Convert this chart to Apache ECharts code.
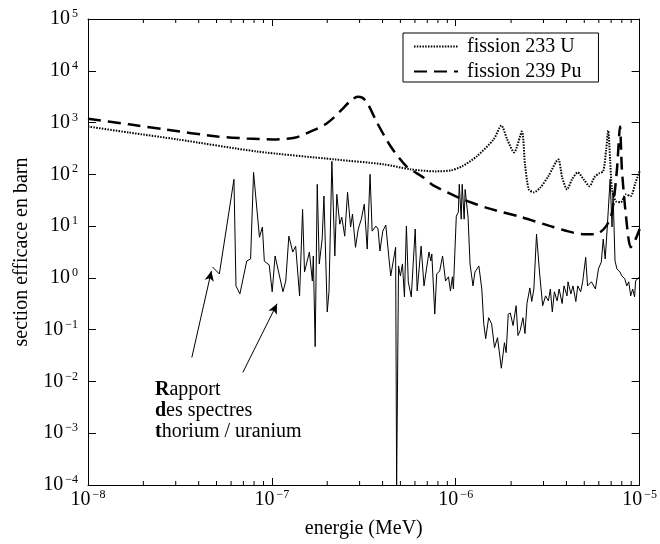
<!DOCTYPE html>
<html>
<head>
<meta charset="utf-8">
<script src="https://cdn.jsdelivr.net/npm/echarts/dist/echarts.min.js"></script>
<style>
  html, body { margin: 0; padding: 0; background: #fff; }
  #chart { width: 660px; height: 544px; }
</style>
</head>
<body>
<div id="chart"></div>
<script>
// energie (MeV) / section efficace (barn)
var u233 = [
  [1e-8, 838], [1.67e-8, 642], [3.09e-8, 471], [8.25e-8, 277], [2.2e-7, 194],
  [4.06e-7, 156], [5.66e-7, 125], [7.78e-7, 114], [9.36e-7, 119], [1.084e-6, 143],
  [1.30e-6, 222], [1.606e-6, 471], [1.77e-6, 875], [1.906e-6, 471], [2.077e-6, 265],
  [2.29e-6, 671], [2.38e-6, 156], [2.497e-6, 51], [2.66e-6, 45], [2.89e-6, 56],
  [3.19e-6, 92], [3.61e-6, 194], [3.79e-6, 88], [4.03e-6, 51], [4.29e-6, 80],
  [4.61e-6, 109], [4.96e-6, 80], [5.34e-6, 59], [5.68e-6, 88], [6.04e-6, 105],
  [6.34e-6, 114], [6.58e-6, 303], [6.75e-6, 700], [6.91e-6, 194], [7.08e-6, 51],
  [7.44e-6, 30], [7.91e-6, 29], [8.41e-6, 41], [8.94e-6, 38], [9.51e-6, 70], [1e-5, 115]
];

var pu239 = [
  [1e-8, 1190], [1.67e-8, 923], [2.64e-8, 733], [5.05e-8, 538], [7.30e-8, 492],
  [1.016e-7, 471], [1.347e-7, 515], [1.62e-7, 671], [1.947e-7, 915], [2.2e-7, 1303],
  [2.40e-7, 1778], [2.65e-7, 2533], [2.92e-7, 3162], [3.10e-7, 3027], [3.30e-7, 2424],
  [3.73e-7, 1000], [4.43e-7, 345], [5.39e-7, 143], [6.64e-7, 88], [7.5e-7, 62],
  [9.95e-7, 38], [1.084e-6, 33], [1.51e-6, 22], [2.26e-6, 15], [3.39e-6, 9.6],
  [4.90e-6, 7.0], [5.82e-6, 7.0], [6.58e-6, 10], [7.08e-6, 18.6], [7.53e-6, 125],
  [7.82e-6, 838], [8.01e-6, 125], [8.41e-6, 17], [8.94e-6, 3.9], [9.51e-6, 5.6], [1e-5, 8.8]
];

// rapport des spectres thorium / uranium
var rapport = [
  [4.75e-8, 1.63], [5.18e-8, 1.19], [6.22e-8, 80], [6.38e-8, 0.70], [6.70e-8, 0.49],
  [7.30e-8, 2.12], [7.66e-8, 2.32], [7.95e-8, 109], [8.56e-8, 6.1], [8.88e-8, 9.6],
  [9.10e-8, 2.1], [9.67e-8, 1.78], [1.004e-7, 0.54], [1.041e-7, 2.65], [1.149e-7, 0.54],
  [1.19e-7, 0.87], [1.237e-7, 6.4], [1.299e-7, 3.16], [1.347e-7, 4.1], [1.415e-7, 0.45],
  [1.469e-7, 21], [1.505e-7, 1.3], [1.54e-7, 1.3], [1.60e-7, 3.16], [1.66e-7, 0.87],
  [1.68e-7, 2.65], [1.72e-7, 0.047], [1.765e-7, 64], [1.81e-7, 1.86], [1.877e-7, 5.6],
  [1.92e-7, 38], [2.0e-7, 0.22], [2.045e-7, 0.54], [2.12e-7, 178], [2.2e-7, 2.65],
  [2.255e-7, 41], [2.34e-7, 10.9], [2.40e-7, 14.9], [2.49e-7, 6.4], [2.58e-7, 45],
  [2.68e-7, 9.6], [2.745e-7, 17], [2.85e-7, 3.9], [2.95e-7, 8.8], [3.065e-7, 13.6],
  [3.18e-7, 26.5], [3.30e-7, 3.6], [3.42e-7, 100], [3.51e-7, 8.0], [3.68e-7, 10],
  [3.78e-7, 8.8], [3.87e-7, 3.3], [4.01e-7, 8.0], [4.165e-7, 10.5], [4.32e-7, 2.65],
  [4.43e-7, 1.09], [4.71e-7, 3.9], [4.77e-7, 1e-4], [4.885e-7, 1.7], [5.0e-7, 1.09],
  [5.13e-7, 1.86], [5.26e-7, 0.43], [5.39e-7, 10], [5.52e-7, 0.84], [5.73e-7, 0.43],
  [6.02e-7, 8.8], [6.17e-7, 0.56], [6.48e-7, 4.1], [6.72e-7, 0.70], [7.15e-7, 3.16],
  [7.32e-7, 2.12], [7.41e-7, 2.9], [7.69e-7, 0.20], [7.88e-7, 1.19], [8.18e-7, 1.36],
  [8.48e-7, 2.65], [8.80e-7, 0.87], [9.13e-7, 1.05], [9.36e-7, 0.56], [9.59e-7, 1.05],
  [9.71e-7, 0.61], [1.007e-6, 15.6], [1.033e-6, 18.6], [1.045e-6, 64], [1.071e-6, 13.6],
  [1.084e-6, 64], [1.111e-6, 13.6], [1.125e-6, 51], [1.167e-6, 14.9], [1.196e-6, 1.86],
  [1.241e-6, 0.70], [1.272e-6, 1.3], [1.336e-6, 1.7], [1.386e-6, 0.61], [1.42e-6, 0.13],
  [1.455e-6, 0.067], [1.51e-6, 0.17], [1.567e-6, 0.13], [1.625e-6, 0.045], [1.687e-6, 0.070],
  [1.77e-6, 0.018], [1.84e-6, 0.056], [1.88e-6, 0.036], [1.93e-6, 0.20], [1.98e-6, 0.21],
  [2.05e-6, 0.12], [2.13e-6, 0.29], [2.18e-6, 0.077], [2.24e-6, 0.096], [2.32e-6, 0.17],
  [2.38e-6, 0.084], [2.44e-6, 0.32], [2.53e-6, 0.64], [2.59e-6, 0.35], [2.66e-6, 0.61],
  [2.75e-6, 7.0], [2.86e-6, 1.19], [2.97e-6, 0.29], [3.08e-6, 0.45], [3.19e-6, 0.36],
  [3.27e-6, 0.61], [3.35e-6, 0.22], [3.44e-6, 0.54], [3.56e-6, 0.36], [3.65e-6, 0.61],
  [3.79e-6, 0.32], [3.88e-6, 0.70], [4.03e-6, 0.45], [4.08e-6, 0.84], [4.23e-6, 0.49],
  [4.34e-6, 0.70], [4.50e-6, 0.35], [4.61e-6, 0.70], [4.78e-6, 0.54], [4.90e-6, 0.84],
  [5.09e-6, 2.5], [5.21e-6, 0.70], [5.47e-6, 0.84], [5.75e-6, 0.61], [5.97e-6, 1.49],
  [6.19e-6, 2.03], [6.34e-6, 5.6], [6.50e-6, 2.32], [6.66e-6, 8.8], [6.91e-6, 80],
  [7.08e-6, 9.6], [7.17e-6, 45], [7.35e-6, 2.12], [7.53e-6, 1.49], [7.82e-6, 1.3],
  [8.01e-6, 1.09], [8.31e-6, 0.96], [8.51e-6, 0.70], [8.73e-6, 0.84], [8.94e-6, 0.45],
  [9.17e-6, 0.61], [9.39e-6, 0.43], [9.51e-6, 0.87], [9.74e-6, 0.96], [1e-5, 1.05]
];

// fleches vers la courbe du rapport
var fleches = [
  [[3.67e-8, 0.029], [4.69e-8, 1.36]],
  [[6.95e-8, 0.0149], [1.067e-7, 0.316]]
];

// petites graduations (2..9) sur l'axe des energies
var minorX = [];
[1e-8, 1e-7, 1e-6].forEach(function (d) {
  for (var m = 2; m <= 9; m++) minorX.push([m * d, 1]);
});

var serif = 'Liberation Serif';

function puissance(v) {
  var e = Math.round(Math.log10(v));
  var s = e < 0 ? '\u2212' + (-e) : '' + e;
  return '{b|10}{s|' + s + '}';
}
var richLabel = {
  b: { fontSize: 20, fontFamily: serif, color: '#000' },
  s: { fontSize: 12, fontFamily: serif, color: '#000', padding: [0, 0, 10, 2] }
};

function axeX(pos, labels) {
  return {
    type: 'log', logBase: 10, position: pos, min: 1e-8, max: 1e-5,
    interval: 1, splitNumber: 3,
    axisLine: { show: true, lineStyle: { color: '#000', width: 1 } },
    axisTick: { show: true, inside: true, length: 7, lineStyle: { color: '#000' } },
    axisLabel: { show: labels, margin: 4, formatter: puissance, rich: richLabel },
    splitLine: { show: false }
  };
}
function axeY(pos, labels) {
  return {
    type: 'log', logBase: 10, position: pos, min: 1e-4, max: 1e5,
    interval: 1, splitNumber: 9,
    axisLine: { show: true, lineStyle: { color: '#000', width: 1 } },
    axisTick: { show: true, inside: true, length: 8, lineStyle: { color: '#000' } },
    axisLabel: { show: labels, margin: 10, formatter: puissance, rich: richLabel },
    splitLine: { show: false }
  };
}

var chart = echarts.init(document.getElementById('chart'));
var xa = axeX('bottom', true);
xa.name = 'energie (MeV)';
xa.nameLocation = 'middle';
xa.nameGap = 34;
xa.nameTextStyle = { fontFamily: serif, fontSize: 20, color: '#000' };
var ya = axeY('left', true);
ya.name = 'section efficace en barn';
ya.nameLocation = 'middle';
ya.nameGap = 56;
ya.nameTextStyle = { fontFamily: serif, fontSize: 20, color: '#000' };

chart.setOption({
  animation: false,
  backgroundColor: '#fff',
  grid: { left: 88, right: 9, top: 19, bottom: 57, containLabel: false },
  xAxis: [xa, axeX('top', false)],
  yAxis: [ya, axeY('right', false)],
  legend: {
    data: ['fission 233 U', 'fission 239 Pu'],
    orient: 'vertical', left: 403, top: 33,
    padding: [3, 17, 0, 10], itemGap: 4, itemWidth: 44, itemHeight: 14,
    backgroundColor: '#fff', borderColor: '#000', borderWidth: 1, borderRadius: 0,
    itemStyle: { opacity: 0, borderWidth: 0 },
    textStyle: { fontFamily: serif, fontSize: 20, color: '#000', lineHeight: 21, padding: [0, 0, 0, 4] }
  },
  graphic: [{
    type: 'text', left: 155, top: 379, silent: true,
    style: {
      text: '{b|R}apport\n{b|d}es spectres\n{b|t}horium / uranium',
      fontFamily: serif, fontSize: 20, lineHeight: 21, fill: '#000',
      rich: { b: { fontFamily: serif, fontSize: 20, fontWeight: 'bold', lineHeight: 21 } }
    }
  }],
  series: [
    {
      name: 'fission 233 U', type: 'line', data: u233, symbol: 'none', smooth: 0.25,
      color: '#000', lineStyle: { color: '#000', width: 2, type: [1.5, 1.3] }, z: 3
    },
    {
      name: 'fission 239 Pu', type: 'line', data: pu239, symbol: 'none', smooth: 0.25,
      color: '#000', lineStyle: { color: '#000', width: 2.5, type: [13, 7] }, z: 3
    },
    {
      name: 'rapport', type: 'line', data: rapport, symbol: 'none',
      color: '#000', lineStyle: { color: '#000', width: 1 }, z: 2,
      markLine: {
        silent: true, symbol: ['none', 'arrow'], symbolSize: [7, 10],
        label: { show: false },
        lineStyle: { color: '#000', width: 1, type: 'solid' },
        emphasis: { disabled: true },
        data: fleches.map(function (f) {
          return [{ coord: f[0] }, { coord: f[1] }];
        })
      }
    },
    {
      name: 'graduations', type: 'custom', data: minorX, silent: true, z: 4,
      renderItem: function (params, api) {
        var x = api.value(0);
        var b = api.coord([x, 1e-4]);
        var t = api.coord([x, 1e5]);
        var st = { stroke: '#000', lineWidth: 1 };
        return {
          type: 'group', children: [
            { type: 'line', shape: { x1: b[0], y1: b[1], x2: b[0], y2: b[1] - 4 }, style: st },
            { type: 'line', shape: { x1: t[0], y1: t[1], x2: t[0], y2: t[1] + 4 }, style: st }
          ]
        };
      }
    }
  ]
});
</script>
</body>
</html>
